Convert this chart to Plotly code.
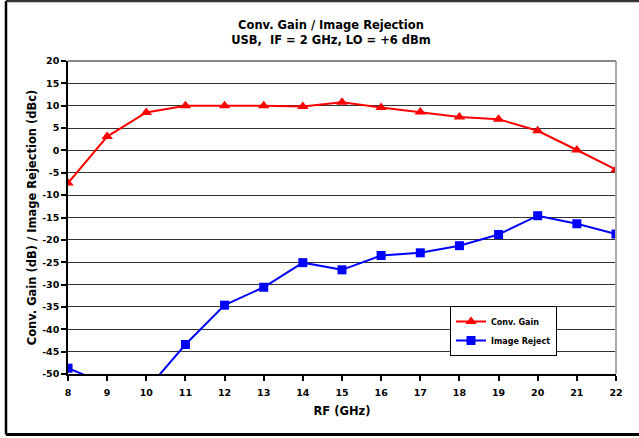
import plotly.graph_objects as go

rf_ghz = [8, 9, 10, 11, 12, 13, 14, 15, 16, 17, 18, 19, 20, 21, 22]
conv_gain = [-7.3, 3.1, 8.5, 10.0, 10.0, 10.0, 9.8, 10.8, 9.6, 8.6, 7.5, 7.0, 4.4, 0.1, -4.3]
image_reject = [-48.7, -52.3, -53.6, -43.4, -34.6, -30.6, -25.1, -26.7, -23.5, -22.9, -21.3, -18.8, -14.6, -16.4, -18.7]

x_ticks = list(range(8, 23))
y_ticks = list(range(-50, 21, 5))

W, H = 639, 438
L, R, T, B = 68, 23, 61, 64
FONT = "DejaVu Sans"

fig = go.Figure()
fig.add_trace(go.Scatter(
    x=rf_ghz, y=conv_gain, name="<b>Conv. Gain</b>", mode="lines+markers",
    line=dict(color="#ff0000", width=2),
    marker=dict(symbol="triangle-up", size=10, color="#ff0000"),
))
fig.add_trace(go.Scatter(
    x=rf_ghz, y=image_reject, name="<b>Image Reject</b>", mode="lines+markers",
    line=dict(color="#0000ff", width=2),
    marker=dict(symbol="square", size=9, color="#0000ff"),
))

pw = W - L - R
ph = H - T - B
def px(xp):
    return (xp - L) / pw
def py(yp):
    return (H - B - yp) / ph

fig.update_layout(
    width=W, height=H,
    margin=dict(l=L, r=R, t=T, b=B),
    paper_bgcolor="white", plot_bgcolor="white",
    font=dict(family=FONT, color="black", size=10),
    title=dict(
        text="<b>Conv. Gain / Image Rejection</b><br><b>USB,  IF = 2 GHz, LO = +6 dBm</b>",
        x=331 / W, xanchor="center", y=1 - 29 / H, yanchor="middle",
        font=dict(family=FONT, size=11.5, color="black"),
    ),
    xaxis=dict(
        range=[8, 22], tickvals=x_ticks, ticktext=[f"<b>{v}</b>" for v in x_ticks],
        showgrid=False, zeroline=False,
        showline=True, linecolor="black", linewidth=1.5,
        ticks="outside", ticklen=5, tickcolor="black", tickwidth=1.5,
        tickfont=dict(family=FONT, size=9.5), ticklabelstandoff=4,
        title=dict(text="<b>RF (GHz)</b>", font=dict(family=FONT, size=11.5), standoff=10),
    ),
    yaxis=dict(
        range=[-50, 20], tickvals=y_ticks, ticktext=[f"<b>{v}</b>" for v in y_ticks],
        showgrid=True, gridcolor="#333333", gridwidth=1.3, zeroline=False,
        showline=True, linecolor="black", linewidth=1.5,
        ticks="outside", ticklen=5, tickcolor="black", tickwidth=1.5,
        tickfont=dict(family=FONT, size=9.5),
        title=dict(text="<b>Conv. Gain (dB) / Image Rejection (dBc)</b>", font=dict(family=FONT, size=11.5), standoff=3),
    ),
    legend=dict(
        x=px(450), y=py(306), xanchor="left", yanchor="top",
        bgcolor="white", bordercolor="black", borderwidth=1,
        font=dict(family=FONT, size=8),
        itemwidth=30,
    ),
    showlegend=True,
)

# plot area right/top frame in gray
fig.add_shape(type="line", xref="paper", yref="paper", x0=1, x1=1, y0=0, y1=1,
              line=dict(color="#aaaaaa", width=2))
fig.add_shape(type="line", xref="paper", yref="paper", x0=0, x1=1, y0=1, y1=1,
              line=dict(color="#888888", width=2))
# outer chart frame: left, top, bottom edges
frame = dict(color="black", width=2.5)
fig.add_shape(type="line", xref="paper", yref="paper", x0=px(6), x1=px(6),
              y0=py(434.5), y1=py(1), line=frame, layer="below")
fig.add_shape(type="line", xref="paper", yref="paper", x0=px(6), x1=px(W + 5),
              y0=py(1), y1=py(1), line=dict(color="#333333", width=2.5), layer="below")
fig.add_shape(type="line", xref="paper", yref="paper", x0=px(6), x1=px(W + 5),
              y0=py(434.5), y1=py(434.5), line=dict(color="black", width=3), layer="below")

fig.write_html("out.html", config={"displayModeBar": False},
               post_script="document.body.style.margin='0';")
